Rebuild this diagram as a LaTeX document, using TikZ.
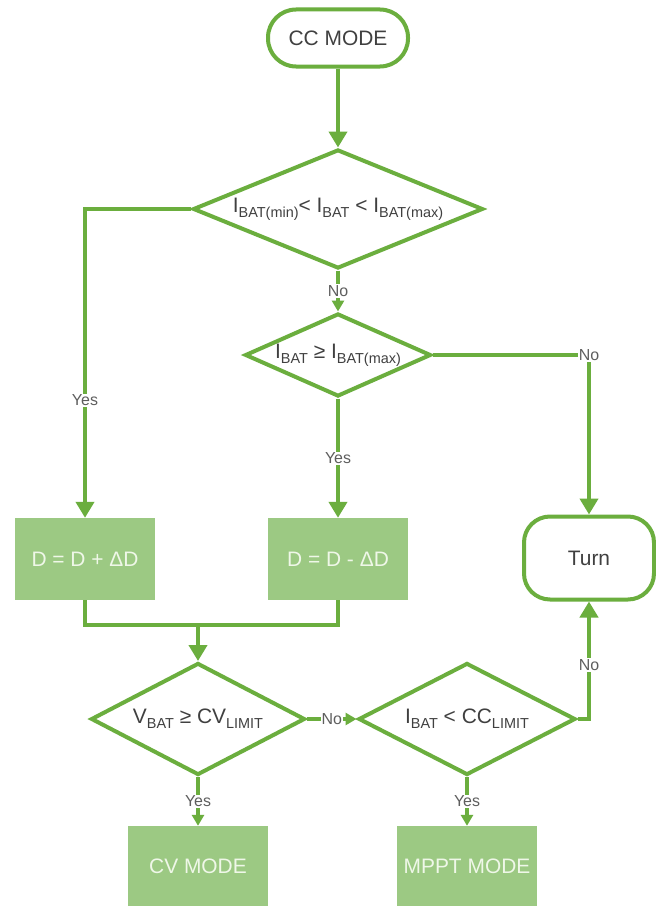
\documentclass[tikz,border=0pt]{standalone}
\usepackage{fontspec}
\setmainfont{Liberation Sans}
\usetikzlibrary{arrows.meta,shapes.geometric}
\definecolor{lineGreen}{HTML}{6BAE3E}
\definecolor{boxGreen}{HTML}{9CC983}
\definecolor{boxText}{HTML}{EFF7E8}
\definecolor{darkText}{HTML}{404040}
\definecolor{labelGray}{HTML}{5E5E5E}
\newcommand{\lowtxt}[1]{\raisebox{-0.45ex}{\fontsize{14.5}{15}\selectfont #1}}

\begin{document}
\begin{tikzpicture}[x=1bp,y=-1bp,
  terminal/.style={draw=lineGreen,line width=4bp,fill=white,text=darkText,font=\fontsize{21}{24}\selectfont},
  decision/.style={diamond,draw=lineGreen,line width=4bp,fill=white,inner sep=0pt,text=darkText,font=\fontsize{21}{24}\selectfont},
  process/.style={rectangle,fill=boxGreen,minimum width=140bp,text=boxText,font=\fontsize{21}{24}\selectfont},
  flow/.style={draw=lineGreen,line width=4bp,-{Triangle[length=16bp,width=18bp]}},
  shortflow/.style={draw=lineGreen,line width=4bp,-{Triangle[length=11bp,width=12bp]}},
  wire/.style={draw=lineGreen,line width=4bp},
  lbl/.style={fill=white,text=labelGray,inner sep=1bp,font=\fontsize{16}{17}\selectfont}]
\useasboundingbox[fill=white] (0,0) rectangle (656,906);
% terminals
\node[terminal,rounded corners=28bp,minimum width=140bp,minimum height=57bp] (cc) at (338,38) {CC MODE};
\node[terminal,rounded corners=26bp,minimum width=130bp,minimum height=83bp] (turn) at (589,558) {Turn};
% decisions
\node[decision,aspect=2.4,minimum width=290bp,minimum height=119bp] (d1) at (338,209) {I\lowtxt{BAT(min)}< I\lowtxt{BAT} < I\lowtxt{BAT(max)}};
\node[decision,aspect=2.2,minimum width=186bp,minimum height=83bp] (d2) at (338,355) {I\lowtxt{BAT} ≥ I\lowtxt{BAT(max)}};
\node[decision,aspect=1.9,minimum width=214bp,minimum height=112bp] (d3) at (198,719) {V\lowtxt{BAT} ≥ CV\lowtxt{LIMIT}};
\node[decision,aspect=1.9,minimum width=217bp,minimum height=112bp] (d4) at (467,719) {I\lowtxt{BAT} < CC\lowtxt{LIMIT}};
% process boxes
\node[process,minimum height=82bp] (inc) at (85,559) {D = D + ΔD};
\node[process,minimum height=82bp] (dec) at (338,559) {D = D - ΔD};
\foreach \name/\x/\txt in {cv/198/CV MODE, mppt/467/MPPT MODE}
  \node[process,minimum height=80bp] (\name) at (\x,866) {\txt};
% flow lines
\draw[flow] (cc.south) -- (d1.north);
\draw[flow] (d1.west) -| node[lbl,pos=0.81] {Yes} (inc.north);
\draw[shortflow] (d1.south) -- node[lbl] {No} (d2.north);
\draw[flow] (d2.south) -- node[lbl] {Yes} (dec.north);
\draw[flow] (d2.east) -| node[lbl,pos=0.5] {No} (turn.north);
\coordinate (join) at (198,625);
\draw[wire] (inc.south) |- (dec.south |- join) -- (dec.south);
\draw[flow] (join) -- (d3.north);
\draw[shortflow] (d3.east) -- node[lbl] {No} (d4.west);
\draw[flow] (d4.east) -| node[lbl,pos=0.73] {No} (turn.south);
\draw[shortflow] (d3.south) -- node[lbl] {Yes} (cv.north);
\draw[shortflow] (d4.south) -- node[lbl] {Yes} (mppt.north);
\end{tikzpicture}
\end{document}
